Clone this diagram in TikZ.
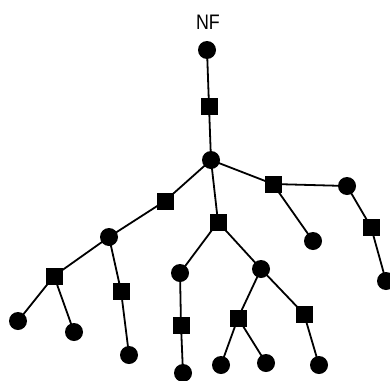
\documentclass[tikz,border=0pt]{standalone}
\usepackage{fontspec}
\setmainfont{Liberation Sans}
\begin{document}
\begin{tikzpicture}[x=1pt,y=-1pt,
  dot/.style={circle,fill=black,inner sep=0pt,minimum size=18pt},
  sq/.style={rectangle,fill=black,inner sep=0pt,minimum size=17pt},
  edge/.style={line width=1.8pt}]
\useasboundingbox (0,0) rectangle (390,380);
\node[font=\fontsize{21}{21}\selectfont, xscale=0.85] (nf) at (208,22) {NF};
\node[dot] (c1) at (207,50) {};
\node[sq] (s1) at (209,106) {};
\node[dot] (c2) at (211,160) {};
\node[sq] (sA) at (165,201) {};
\node[sq] (sB) at (218,222) {};
\node[sq] (sC) at (273,184) {};
\node[dot] (cD) at (347,186) {};
\node[dot] (cE) at (313,241) {};
\node[sq] (sF) at (371,227) {};
\node[dot] (cG) at (386,281) {};
\node[dot] (cH) at (109,237) {};
\node[sq] (sI) at (54,276) {};
\node[sq] (sJ) at (121,291) {};
\node[dot] (cK) at (18,321) {};
\node[dot] (cL) at (74,332) {};
\node[dot] (cM) at (129,355) {};
\node[dot] (cN) at (180,273) {};
\node[sq] (sO) at (181,325) {};
\node[dot] (cP) at (183,373) {};
\node[dot] (cQ) at (261,269) {};
\node[sq] (sR) at (238,318) {};
\node[sq] (sS) at (304,314) {};
\node[dot] (cT) at (221,365) {};
\node[dot] (cU) at (266,363) {};
\node[dot] (cV) at (319,365) {};
\draw[edge] (c1.center) -- (s1.center) -- (c2.center);
\draw[edge] (c2.center) -- (sA.center);
\draw[edge] (c2.center) -- (sB.center);
\draw[edge] (c2.center) -- (sC.center);
\draw[edge] (sC.center) -- (cD.center);
\draw[edge] (sC.center) -- (cE.center);
\draw[edge] (cD.center) -- (sF.center) -- (cG.center);
\draw[edge] (sA.center) -- (cH.center);
\draw[edge] (cH.center) -- (sI.center);
\draw[edge] (cH.center) -- (sJ.center) -- (cM.center);
\draw[edge] (sI.center) -- (cK.center);
\draw[edge] (sI.center) -- (cL.center);
\draw[edge] (sB.center) -- (cN.center) -- (sO.center) -- (cP.center);
\draw[edge] (sB.center) -- (cQ.center);
\draw[edge] (cQ.center) -- (sR.center);
\draw[edge] (cQ.center) -- (sS.center) -- (cV.center);
\draw[edge] (sR.center) -- (cT.center);
\draw[edge] (sR.center) -- (cU.center);
\end{tikzpicture}
\end{document}
